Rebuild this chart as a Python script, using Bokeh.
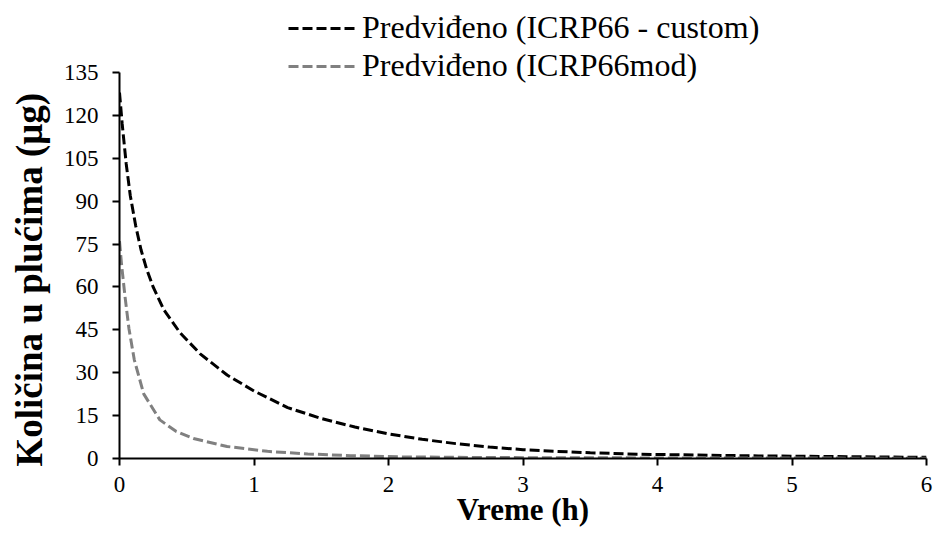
from bokeh.plotting import figure
from bokeh.models import Legend, LegendItem, Range1d, FixedTicker, Title
from bokeh.embed import file_html
from bokeh.resources import INLINE

# ---- data ----
x_custom = [0.0, 0.02, 0.05, 0.08, 0.12, 0.16, 0.2, 0.25, 0.33, 0.45, 0.6, 0.8, 1.0,
            1.25, 1.5, 1.75, 2.0, 2.25, 2.5, 2.75, 3.0, 3.25, 3.5, 3.85, 4.3, 4.75,
            5.25, 5.75, 6.0]
y_custom = [128, 117, 103, 92, 81.5, 73, 66.5, 60, 52, 44, 36.6, 29.2, 23.6,
            17.8, 14.0, 11.0, 8.6, 6.7, 5.2, 4.0, 3.1, 2.5, 2.0, 1.5, 1.2, 0.9,
            0.7, 0.5, 0.4]

x_mod = [0.0, 0.015, 0.04, 0.07, 0.11, 0.18, 0.3, 0.42, 0.55, 0.8, 1.1, 1.4, 1.72,
         2.1, 2.5, 3.0, 4.0, 5.0, 6.0]
y_mod = [76, 68, 57, 45.5, 34.5, 22.6, 13.5, 9.5, 7.0, 4.2, 2.5, 1.6, 1.0,
         0.6, 0.4, 0.3, 0.2, 0.15, 0.1]

series_labels = ["Predviđeno (ICRP66 - custom)", "Predviđeno (ICRP66mod)"]
x_ticks = [0, 1, 2, 3, 4, 5, 6]
y_ticks = [0, 15, 30, 45, 60, 75, 90, 105, 120, 135]
y_max = 135
x_title = "Vreme (h)"
y_title = "Količina u plućima (μg)"

FONT = "Liberation Serif"
W, H = 935, 533
FRAME_LEFT, FRAME_RIGHT, AXIS_TOP, FRAME_BOTTOM = 119, 926, 72, 458

# frame reaches the top of the canvas so the legend can sit above the 135 line;
# the y axis line itself is limited to 0..135 with bounds
px_per_unit = (FRAME_BOTTOM - AXIS_TOP) / y_max
y_top = FRAME_BOTTOM / px_per_unit

p = figure(width=W, height=H, output_backend="svg", toolbar_location=None,
           x_range=Range1d(0, 6), y_range=Range1d(0, y_top),
           min_border_left=FRAME_LEFT, min_border_top=0,
           min_border_right=W - FRAME_RIGHT, min_border_bottom=H - FRAME_BOTTOM)
p.outline_line_color = None
p.xgrid.visible = False
p.ygrid.visible = False
p.background_fill_color = "white"
p.border_fill_color = "white"

r1 = p.line(x_custom, y_custom, line_color="black", line_width=3, line_dash="10 4")
r2 = p.line(x_mod, y_mod, line_color="#808080", line_width=3, line_dash="10 4")

p.xaxis.ticker = FixedTicker(ticks=x_ticks)
p.yaxis.ticker = FixedTicker(ticks=y_ticks)
p.yaxis.bounds = (0, y_max)
for ax in (p.xaxis, p.yaxis):
    ax.axis_line_width = 2
    ax.axis_line_color = "black"
    ax.major_tick_line_width = 2
    ax.major_tick_line_color = "black"
    ax.major_tick_out = 7
    ax.major_tick_in = 0
    ax.minor_tick_line_color = None
    ax.major_label_text_font = FONT
    ax.major_label_text_font_size = "23px"
    ax.major_label_text_color = "black"
    ax.axis_label_text_font = FONT
    ax.axis_label_text_font_style = "bold"
    ax.axis_label_text_color = "black"

p.xaxis.axis_label = x_title
p.xaxis.axis_label_text_font_size = "31px"
p.xaxis.major_label_standoff = 11
p.xaxis.axis_label_standoff = -3

p.yaxis.major_label_standoff = 14

# y title as a side title, placed where the reference has it
y_label = Title(text=y_title, align="left", vertical_align="top", offset=-8,
                text_font=FONT, text_font_style="bold", text_font_size="37px",
                text_color="black", standoff=17)
p.add_layout(y_label, "left")

legend = Legend(items=[LegendItem(label=series_labels[0], renderers=[r1]),
                       LegendItem(label=series_labels[1], renderers=[r2])],
                location=(288 - FRAME_LEFT, 374), orientation="vertical",
                padding=0, spacing=1, margin=0, border_line_color=None,
                background_fill_alpha=0,
                label_text_font=FONT, label_text_font_size="32px",
                label_text_color="black",
                glyph_width=70, glyph_height=20, label_standoff=4)
p.add_layout(legend)

open("out.html", "w").write(file_html(p, INLINE))
